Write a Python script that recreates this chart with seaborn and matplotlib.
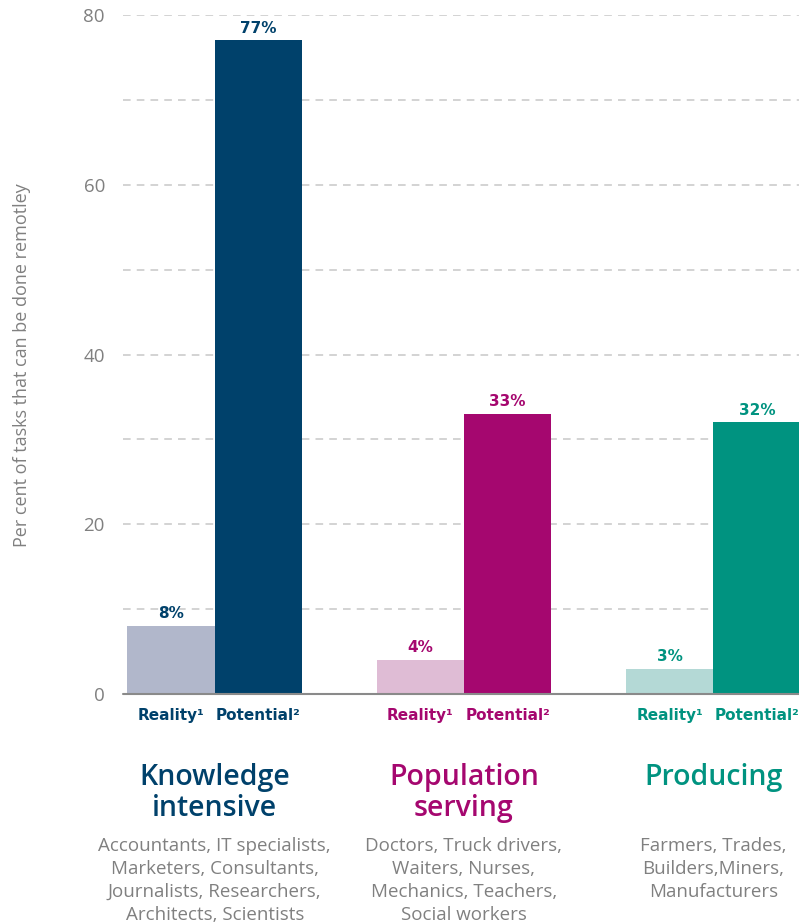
import matplotlib
matplotlib.use("Agg")
import matplotlib.pyplot as plt
import seaborn as sns
import pandas as pd

# ---- data ----
groups = ["Knowledge intensive", "Population serving", "Producing"]
group_titles = ["Knowledge\nintensive", "Population\nserving", "Producing"]
measures = ["Reality", "Potential"]
measure_labels = ["Reality\u00b9", "Potential\u00b2"]
reality = [8, 4, 3]
potential = [77, 33, 32]
descriptions = [
    "Accountants, IT specialists,\nMarketers, Consultants,\nJournalists, Researchers,\nArchitects, Scientists",
    "Doctors, Truck drivers,\nWaiters, Nurses,\nMechanics, Teachers,\nSocial workers",
    "Farmers, Trades,\nBuilders,Miners,\nManufacturers",
]
y_ticks = [0, 20, 40, 60, 80]
y_label = "Per cent of tasks that can be done remotley"

dark_colors = ["#00416b", "#a5076f", "#009380"]
light_colors = ["#b1b7cb", "#dfbcd5", "#b4d9d6"]
grey = "#808080"

df = pd.DataFrame({
    "group": groups * 2,
    "measure": [measures[0]] * 3 + [measures[1]] * 3,
    "value": reality + potential,
})

sns.set_theme(style="white")
plt.rcParams["font.family"] = ["Open Sans", "DejaVu Sans"]
BOLD = ["DejaVu Sans"]

W, H = 799, 923
fig = plt.figure(figsize=(W / 100, H / 100), dpi=100)
ax_left, ax_right, ax_top, ax_bottom = 123, 799, 15, 694
ax = fig.add_axes([ax_left / W, (H - ax_bottom) / H,
                   (ax_right - ax_left) / W, (ax_bottom - ax_top) / H])

sns.barplot(data=df, x="group", y="value", hue="measure", order=groups,
            hue_order=measures, width=0.7, dodge=True, ax=ax,
            legend=False, saturation=1, errorbar=None)

# colour bars per group / measure
for ci, cont in enumerate(ax.containers):
    cols = light_colors if ci == 0 else dark_colors
    for bi, patch in enumerate(cont.patches):
        patch.set_facecolor(cols[bi])
        patch.set_edgecolor("none")
    vals = reality if ci == 0 else potential
    texts = ax.bar_label(cont, labels=[f"{v}%" for v in vals], padding=3.5,
                         fontsize=11, fontweight="bold", family=BOLD)
    for bi, t in enumerate(texts):
        t.set_color(dark_colors[bi])

ax.set_xlim(-0.368, 2.344)
ax.set_ylim(0, 80)

# grid
for y in range(10, 81, 10):
    ax.axhline(y, color="#c8c8c8", lw=1.1, ls=(0, (5, 4)), zorder=0)
ax.axhline(0, color="#8a8a8a", lw=1.5, zorder=3, clip_on=False)

for s in ax.spines.values():
    s.set_visible(False)

ax.set_yticks(y_ticks)
ax.set_yticklabels([str(v) for v in y_ticks], color=grey, fontsize=13.5,
                   fontweight="normal")
ax.tick_params(axis="y", length=0, pad=13)
ax.set_ylabel(y_label, color=grey, fontsize=13, fontweight="normal")
ax.yaxis.set_label_coords(-0.136, 0.485)

# x tick labels: Reality / Potential under each bar
xt, xl, xc = [], [], []
for gi in range(3):
    for mi, lab in enumerate(measure_labels):
        xt.append(gi + (-0.175 if mi == 0 else 0.175))
        xl.append(lab)
        xc.append(dark_colors[gi])
ax.set_xticks(xt)
ax.set_xticklabels(xl, fontsize=11, fontweight="bold", family=BOLD)
for t, c in zip(ax.get_xticklabels(), xc):
    t.set_color(c)
ax.tick_params(axis="x", length=0, pad=10)
ax.set_xlabel("")

trans = ax.get_xaxis_transform()
axh = ax_bottom - ax_top


def yfrac(ypix):
    return (ax_bottom - ypix) / axh


for gi in range(3):
    ax.text(gi, yfrac(763), group_titles[gi], transform=trans, ha="center",
            va="top", fontsize=20.5, fontweight="semibold",
            color=dark_colors[gi], linespacing=1.1, clip_on=False)
    ax.text(gi, yfrac(837), descriptions[gi], transform=trans, ha="center",
            va="top", fontsize=13.5, fontweight="normal", color=grey,
            linespacing=1.36, clip_on=False)

fig.savefig("out.png", dpi=100)
